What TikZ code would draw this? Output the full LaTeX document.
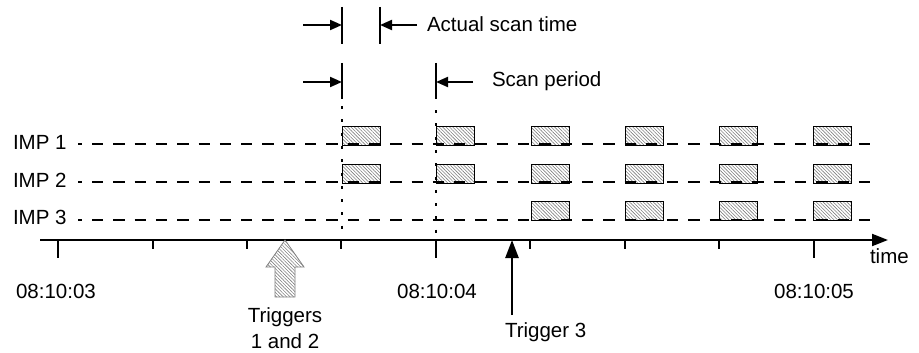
\documentclass[tikz,border=0pt]{standalone}
\usepackage{fontspec}
\setmainfont{Liberation Sans}
\usetikzlibrary{arrows.meta,patterns.meta}
\begin{document}
\begin{tikzpicture}[x=1pt,y=-1pt,
  every node/.style={inner sep=0pt,outer sep=0pt,font=\fontsize{20.5}{24}\selectfont},
  implabel/.style={anchor=west},
  impline/.style={line width=2.2pt,dash pattern=on 11.3pt off 10pt,dash phase=7.3pt},
  dotline/.style={line width=2pt,dash pattern=on 3pt off 10.3pt},
  solidmark/.style={line width=2pt},
  marker/.style={line width=2pt,-{Triangle[length=12pt,width=10pt]}},
  scanbox/.style={preaction={fill=white},draw=black,line width=1pt,
    pattern={Lines[angle=-45,distance=2.4pt,line width=0.6pt]},pattern color=gray},
  axis/.style={line width=2pt,-{Triangle[length=16pt,width=12pt]}},
  tickmark/.style={line width=2pt},
  bigarrow/.style={draw=gray,line width=0.8pt,
    pattern={Lines[angle=-45,distance=2.4pt,line width=0.6pt]},pattern color=gray},
  trigarrow/.style={line width=2.5pt,-{Triangle[length=18pt,width=13pt]}},
]
\useasboundingbox (0,0) rectangle (919,353);

% scan boxes
\foreach \x in {342,436,531,625,719,813} {
  \draw[scanbox] (\x,126) rectangle ++(38,19);
  \draw[scanbox] (\x,164) rectangle ++(38,19);
}
\foreach \x in {531,625,719,813} {
  \draw[scanbox] (\x,201) rectangle ++(38,19);
}

% IMP labels and dashed lines
\node[implabel] (imp1) at (13,142) {IMP 1};
\node[implabel] (imp2) at (13,180) {IMP 2};
\node[implabel] (imp3) at (13,217) {IMP 3};
\coordinate (l1a) at (78,144); \coordinate (l1b) at (870,144);
\coordinate (l2a) at (78,182); \coordinate (l2b) at (870,182);
\coordinate (l3a) at (78,220); \coordinate (l3b) at (870,220);
\draw[impline] (l1a) -- (l1b);
\draw[impline] (l2a) -- (l2b);
\draw[impline] (l3a) -- (l3b);

% marker lines
\coordinate (m1t) at (342,7);   \coordinate (m1b) at (342,44);
\coordinate (m2t) at (380,7);   \coordinate (m2b) at (380,44);
\coordinate (m3t) at (342,63);  \coordinate (m3b) at (342,99);
\coordinate (m4t) at (436,63);  \coordinate (m4b) at (436,99);
\draw[solidmark] (m1t) -- (m1b);
\draw[solidmark] (m2t) -- (m2b);
\draw[solidmark] (m3t) -- (m3b);
\draw[solidmark] (m4t) -- (m4b);
\coordinate (d1t) at (342,106); \coordinate (d1b) at (342,240);
\coordinate (d2t) at (436,110); \coordinate (d2b) at (436,240);
\draw[dotline] (d1t) -- (d1b);
\draw[dotline] (d2t) -- (d2b);

% dimension arrows
\coordinate (a1s) at (303,25);  \coordinate (a1e) at (342,25);
\coordinate (a2s) at (417,25);  \coordinate (a2e) at (380,25);
\coordinate (a3s) at (303,82);  \coordinate (a3e) at (342,82);
\coordinate (a4s) at (473,82);  \coordinate (a4e) at (436,82);
\draw[marker] (a1s) -- (a1e);
\draw[marker] (a2s) -- (a2e);
\draw[marker] (a3s) -- (a3e);
\draw[marker] (a4s) -- (a4e);
\node[anchor=base west] (ast) at (427,32) {Actual scan time};
\node[anchor=base west] (sp) at (492,87) {Scan period};

% time axis
\coordinate (ax0) at (40,240);
\coordinate (ax1) at (888,240);
\draw[axis] (ax0) -- (ax1);
\foreach \x/\l in {58/18,152.5/9,246.9/9,341.3/9,435.8/18,530.2/9,624.6/9,719/9,813.5/18} {
  \draw[tickmark] (\x,240) -- ++(0,\l);
}
\node[anchor=base west] (time) at (870,263) {time};
\node (t3) at (56,291) {08:10:03};
\node (t4) at (437,291) {08:10:04};
\node (t5) at (814,291) {08:10:05};

% triggers 1 and 2 block arrow
\draw[bigarrow] (285,240) -- (304,267) -- (295,267) -- (295,297) -- (275,297)
  -- (275,267) -- (266,267) -- cycle;
\node[anchor=base] (tr12a) at (285,322) {Triggers};
\node[anchor=base] (tr12b) at (285,348) {1 and 2};

% trigger 3
\coordinate (tr3s) at (512,315);
\coordinate (tr3e) at (512,240);
\draw[trigarrow] (tr3s) -- (tr3e);
\node[anchor=base west] (tr3) at (505,337) {Trigger 3};
\end{tikzpicture}
\end{document}
